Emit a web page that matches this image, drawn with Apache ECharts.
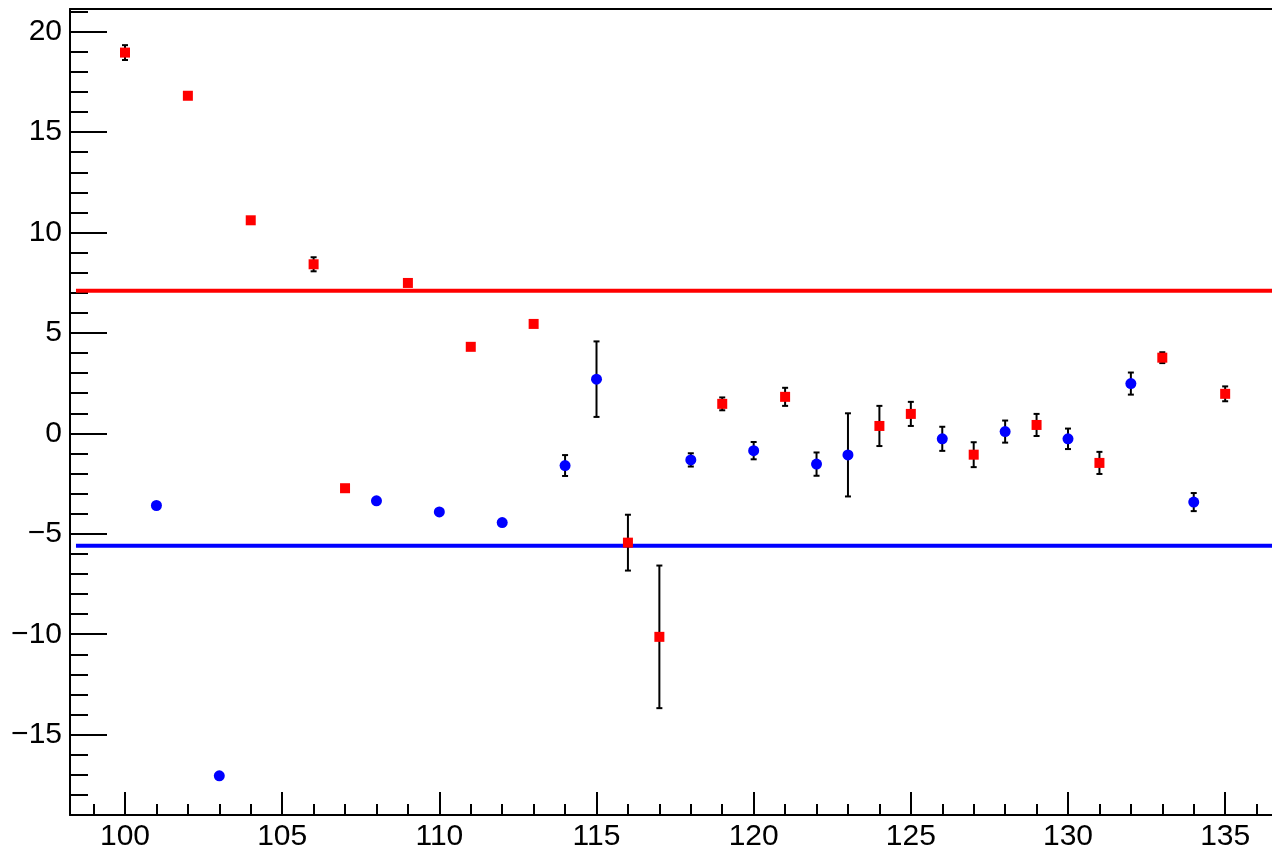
<!DOCTYPE html>
<html>
<head>
<meta charset="utf-8">
<script src="https://cdn.jsdelivr.net/npm/echarts@6/dist/echarts.min.js"></script>
<style>
html,body{margin:0;padding:0;background:#fff;}
#chart{width:1272px;height:852px;}
</style>
</head>
<body>
<div id="chart"></div>
<script>
// ---- data ----
const xRed = [100,102,104,106,107,109,111,113,116,117,119,121,124,125,127,129,131,133,135];
const yRed = [18.96,16.81,10.61,8.42,-2.73,7.49,4.31,5.45,-5.44,-10.13,1.47,1.82,0.37,0.97,-1.06,0.42,-1.47,3.77,1.97];
const eRed = [0.37,0.1,0.1,0.35,0.1,0.1,0.1,0.1,1.39,3.55,0.32,0.45,1.0,0.6,0.62,0.55,0.55,0.27,0.37];

const xBlue = [101,103,108,110,112,114,115,118,120,122,123,126,128,130,132,134];
const yBlue = [-3.59,-17.05,-3.36,-3.91,-4.44,-1.6,2.7,-1.32,-0.86,-1.53,-1.07,-0.27,0.09,-0.27,2.48,-3.42];
const eBlue = [0.1,0.1,0.1,0.1,0.1,0.52,1.88,0.33,0.43,0.58,2.07,0.6,0.55,0.51,0.55,0.45];

const redLevel = 7.1;
const blueLevel = -5.6;
const levelStart = 98.44;

const xMajorTicks = [100,105,110,115,120,125,130,135];
const xMinorTicks = [99,101,102,103,104,106,107,108,109,111,112,113,114,116,117,118,119,121,122,123,124,126,127,128,129,131,132,133,134,136];
const yMajorTicks = [-15,-10,-5,0,5,10,15,20];
const yMinorTicks = [-18,-17,-16,-14,-13,-12,-11,-9,-8,-7,-6,-4,-3,-2,-1,1,2,3,4,6,7,8,9,11,12,13,14,16,17,18,19,21];

const X_MIN = 98.25, X_MAX = 136.49, Y_MIN = -19, Y_MAX = 21.13;

// ---- build ----
const redPts = xRed.map((x,i)=>[x,yRed[i],eRed[i]]);
const bluePts = xBlue.map((x,i)=>[x,yBlue[i],eBlue[i]]);

function errRender(params, api){
  const x = api.value(0), y = api.value(1), e = api.value(2);
  const top = api.coord([x, y+e]);
  const bot = api.coord([x, y-e]);
  const cw = 3;
  const st = {stroke:'#000', lineWidth:2};
  return {type:'group', children:[
    {type:'line', shape:{x1:top[0],y1:top[1],x2:bot[0],y2:bot[1]}, style:st},
    {type:'line', shape:{x1:top[0]-cw,y1:top[1],x2:top[0]+cw,y2:top[1]}, style:st},
    {type:'line', shape:{x1:bot[0]-cw,y1:bot[1],x2:bot[0]+cw,y2:bot[1]}, style:st}
  ]};
}

const font = {fontFamily:'"Liberation Sans", Arial, sans-serif', fontSize:30, color:'#000'};
const minusFmt = v => String(v).replace('-', '\u2212');
const lineSt = {color:'#000', width:2};

const chart = echarts.init(document.getElementById('chart'), null, {renderer:'canvas'});
chart.setOption({
  animation:false,
  backgroundColor:'#fff',
  grid:{left:70, top:9, right:0, bottom:37, show:false},
  xAxis:[
    {type:'value', min:X_MIN, max:X_MAX, position:'bottom',
     axisLine:{show:true, onZero:false, lineStyle:lineSt}, splitLine:{show:false},
     axisTick:{show:true, inside:true, length:23, customValues:xMajorTicks, lineStyle:lineSt},
     axisLabel:Object.assign({show:true, margin:7, customValues:xMajorTicks, formatter:minusFmt}, font)},
    {type:'value', min:X_MIN, max:X_MAX, position:'bottom',
     axisLine:{show:false, onZero:false}, splitLine:{show:false},
     axisTick:{show:true, inside:true, length:11, customValues:xMinorTicks, lineStyle:lineSt},
     axisLabel:{show:false}},
    {type:'value', min:X_MIN, max:X_MAX, position:'top',
     axisLine:{show:true, onZero:false, lineStyle:lineSt}, splitLine:{show:false},
     axisTick:{show:false}, axisLabel:{show:false}}
  ],
  yAxis:[
    {type:'value', min:Y_MIN, max:Y_MAX, position:'left',
     axisLine:{show:true, onZero:false, lineStyle:lineSt}, splitLine:{show:false},
     axisTick:{show:true, inside:true, length:37, customValues:yMajorTicks, lineStyle:lineSt},
     axisLabel:Object.assign({show:true, margin:8, customValues:yMajorTicks, formatter:minusFmt}, font)},
    {type:'value', min:Y_MIN, max:Y_MAX, position:'left',
     axisLine:{show:false, onZero:false}, splitLine:{show:false},
     axisTick:{show:true, inside:true, length:18, customValues:yMinorTicks, lineStyle:lineSt},
     axisLabel:{show:false}}
  ],
  series:[
    {type:'line', name:'redLevel', data:[[levelStart,redLevel],[X_MAX,redLevel]], symbol:'none',
     lineStyle:{color:'#ff0000', width:4}, z:2, silent:true},
    {type:'line', name:'blueLevel', data:[[levelStart,blueLevel],[X_MAX,blueLevel]], symbol:'none',
     lineStyle:{color:'#0000ff', width:4}, z:2, silent:true},
    {type:'custom', name:'redErr', data:redPts, renderItem:errRender, z:3, encode:{x:0,y:1}},
    {type:'custom', name:'blueErr', data:bluePts, renderItem:errRender, z:3, encode:{x:0,y:1}},
    {type:'scatter', name:'red', data:redPts.map(p=>[p[0],p[1]]), symbol:'rect', symbolSize:10,
     itemStyle:{color:'#ff0000', opacity:1}, z:4},
    {type:'scatter', name:'blue', data:bluePts.map(p=>[p[0],p[1]]), symbol:'circle', symbolSize:11,
     itemStyle:{color:'#0000ff', opacity:1}, z:4}
  ]
});
</script>
</body>
</html>
